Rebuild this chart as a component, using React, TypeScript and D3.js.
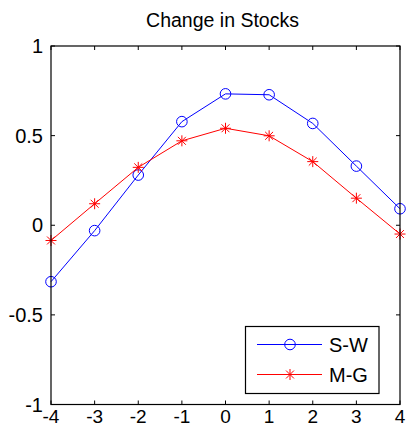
import { useMemo } from 'react';
import * as d3 from 'd3';

const xValues = [-4, -3, -2, -1, 0, 1, 2, 3, 4];
const swValues = [-0.315, -0.03, 0.28, 0.578, 0.733, 0.728, 0.568, 0.33, 0.092];
const mgValues = [-0.085, 0.12, 0.323, 0.471, 0.541, 0.499, 0.355, 0.151, -0.049];
const xTicks = [-4, -3, -2, -1, 0, 1, 2, 3, 4];
const yTicks = [-1, -0.5, 0, 0.5, 1];
const legendNames = ['S-W', 'M-G'];

const width = 406;
const height = 428;
const box = { left: 51, right: 400, top: 46, bottom: 404.5 };
const font = '"Liberation Sans", Arial, sans-serif';

const Star = ({ x, y }: { x: number; y: number }) => {
  const r = 5.5;
  const d = r * 0.72;
  return (
    <g stroke="#ff0000" strokeWidth={1}>
      <line x1={x - r} y1={y} x2={x + r} y2={y} />
      <line x1={x} y1={y - r} x2={x} y2={y + r} />
      <line x1={x - d} y1={y - d} x2={x + d} y2={y + d} />
      <line x1={x - d} y1={y + d} x2={x + d} y2={y - d} />
    </g>
  );
};

const App = () => {
  const x = useMemo(() => d3.scaleLinear().domain([-4, 4]).range([box.left, box.right]), []);
  const y = useMemo(() => d3.scaleLinear().domain([-1, 1]).range([box.bottom, box.top]), []);

  const line = d3.line<number>()
    .x((_, i) => x(xValues[i]))
    .y((d) => y(d));

  const fmt = (v: number) => String(v);

  return (
    <svg
      width={width}
      height={height}
      style={{ position: 'fixed', left: 0, top: 0, background: '#fff' }}
      fontFamily={font}
    >
      <rect x={0} y={0} width={width} height={height} fill="#fff" />
      <text x={(box.left + box.right) / 2 - 3} y={27} fontSize={19.5} textAnchor="middle" fill="#000">
        Change in Stocks
      </text>

      {/* ticks */}
      <g stroke="#000" strokeWidth={1}>
        {xTicks.map((t) => (
          <g key={'xt' + t}>
            <line x1={x(t)} x2={x(t)} y1={box.bottom} y2={box.bottom - 4} />
            <line x1={x(t)} x2={x(t)} y1={box.top} y2={box.top + 4} />
          </g>
        ))}
        {yTicks.map((t) => (
          <g key={'yt' + t}>
            <line x1={box.left} x2={box.left + 4} y1={y(t)} y2={y(t)} />
            <line x1={box.right} x2={box.right - 4} y1={y(t)} y2={y(t)} />
          </g>
        ))}
      </g>

      {xTicks.map((t) => (
        <text key={'xl' + t} x={x(t)} y={423} fontSize={19} textAnchor="middle" fill="#000">
          {t}
        </text>
      ))}
      {yTicks.map((t) => (
        <text key={'yl' + t} x={43} y={y(t) + 7} fontSize={20} textAnchor="end" fill="#000">
          {fmt(t)}
        </text>
      ))}

      {/* series */}
      <path d={line(swValues) ?? ''} fill="none" stroke="#0000ff" strokeWidth={1} />
      <path d={line(mgValues) ?? ''} fill="none" stroke="#ff0000" strokeWidth={1} />
      {swValues.map((v, i) => (
        <circle key={'sw' + i} cx={x(xValues[i])} cy={y(v)} r={5.3} fill="none" stroke="#0000ff" strokeWidth={1} />
      ))}
      {mgValues.map((v, i) => (
        <Star key={'mg' + i} x={x(xValues[i])} y={y(v)} />
      ))}

      <rect
        x={box.left}
        y={box.top}
        width={box.right - box.left}
        height={box.bottom - box.top}
        fill="none"
        stroke="#000"
        strokeWidth={1.2}
      />

      {/* legend */}
      <g>
        <rect x={245.5} y={326.5} width={133.5} height={67} fill="#fff" stroke="#000" strokeWidth={1.2} />
        {legendNames.map((name, i) => {
          const ly = 344.5 + i * 30;
          const color = i === 0 ? '#0000ff' : '#ff0000';
          return (
            <g key={name}>
              <line x1={257} x2={322} y1={ly} y2={ly} stroke={color} strokeWidth={1} />
              {i === 0 ? (
                <circle cx={290} cy={ly} r={5.3} fill="none" stroke={color} strokeWidth={1} />
              ) : (
                <Star x={290} y={ly} />
              )}
              <text x={329} y={ly + 7} fontSize={20} fill="#000">
                {name}
              </text>
            </g>
          );
        })}
      </g>
    </svg>
  );
};

export default App;
